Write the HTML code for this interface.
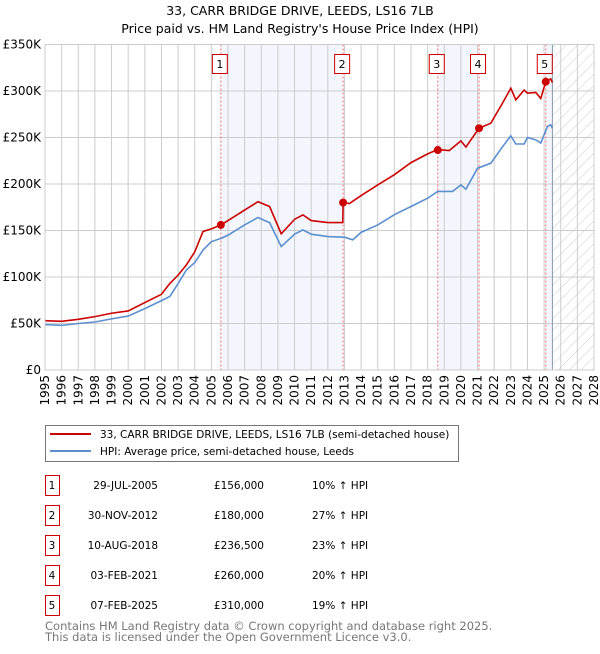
<!DOCTYPE html>
<html><head><meta charset="utf-8"><style>
body{margin:0;background:#fff;font-family:"DejaVu Sans","Liberation Sans",sans-serif;}
svg text{font-family:"DejaVu Sans","Liberation Sans",sans-serif;}
</style></head><body>
<svg id="chart" width="600" height="650" xmlns="http://www.w3.org/2000/svg">
<defs><pattern id="hatch" patternUnits="userSpaceOnUse" width="8" height="8" patternTransform="rotate(45)"><line x1="0" y1="0" x2="0" y2="8" stroke="#ccc" stroke-width="1"/></pattern></defs>
<text x="300" y="15" text-anchor="middle" font-size="12.5">33, CARR BRIDGE DRIVE, LEEDS, LS16 7LB</text>
<text x="300" y="33" text-anchor="middle" font-size="12.5">Price paid vs. HM Land Registry's House Price Index (HPI)</text>
<g id="plot"></g>
<g>
<rect x="45.5" y="425.5" width="413" height="36" fill="#fff" stroke="#777"/>
<line x1="50" y1="434" x2="91" y2="434" stroke="#cc0000" stroke-width="2"/>
<text x="100" y="438" font-size="10.5">33, CARR BRIDGE DRIVE, LEEDS, LS16 7LB (semi-detached house)</text>
<line x1="50" y1="451" x2="91" y2="451" stroke="#5b8fd0" stroke-width="2"/>
<text x="100" y="455" font-size="10.5">HPI: Average price, semi-detached house, Leeds</text>
</g>
<g id="table"></g>
<text x="45" y="630" font-size="11.5" fill="#777">Contains HM Land Registry data © Crown copyright and database right 2025.</text>
<text x="45" y="641" font-size="11.5" fill="#777">This data is licensed under the Open Government Licence v3.0.</text>
</svg>
<script>
const hpiYears=[1995,1996,1997,1998,1999,2000,2001,2002,2002.5,2003,2003.5,2004,2004.5,2005,2005.6,2006,2007,2007.8,2008.5,2009.2,2010,2010.5,2011,2012,2013,2013.5,2014,2015,2016,2017,2018,2018.6,2019.5,2020,2020.3,2021,2021.8,2022.5,2023,2023.3,2023.8,2024,2024.5,2024.8,2025.2,2025.4,2025.5];
const hpiValues=[48.8,48,50,51.6,55,58,66,74.6,79,93,107.6,115.5,129,138,141.7,145,156,164,158.5,132.7,146,150.6,146,143.5,142.8,140,148,156,167,175.8,184.7,192,192,199,194.4,217,222.4,240,251.8,243,243,250,247.5,244,261.8,263.6,260];
const priceYears=[1995,1996,1997,1998,1999,2000,2001,2002,2002.5,2003,2003.5,2004,2004.5,2005,2005.58,2006,2007,2007.8,2008.5,2009.2,2010,2010.5,2011,2012,2012.9,2012.92,2013.3,2014,2015,2016,2017,2018,2018.6,2019.3,2020,2020.3,2021.09,2021.8,2022.5,2023,2023.3,2023.8,2024,2024.5,2024.8,2025.1,2025.4,2025.5];
const priceValues=[53,52.4,54.5,57.4,61,63.5,72.5,81.4,93,102,113,127,149,151.7,156,160.7,172,181,175.8,146.4,162,166.8,160.7,158.5,158.5,180,179,187.6,199,210,223,232.4,237,236,246.4,239.7,260,265.4,287,303,290.5,301,297.7,298.4,292,310,313,309];
const saleLabels=["1","2","3","4","5"];
const saleYears=[2005.57,2012.92,2018.61,2021.09,2025.10];
const saleValues=[156,180,236.5,260,310];
const saleDates=["29-JUL-2005","30-NOV-2012","10-AUG-2018","03-FEB-2021","07-FEB-2025"];
const salePrices=["£156,000","£180,000","£236,500","£260,000","£310,000"];
const saleHpi=["10% ↑ HPI","27% ↑ HPI","23% ↑ HPI","20% ↑ HPI","19% ↑ HPI"];
const yTicks=[0,50,100,150,200,250,300,350];
const yTickLabels=["£0","£50K","£100K","£150K","£200K","£250K","£300K","£350K"];
const xStart=1995,xEnd=2028,forecastStart=2025.5;

const L=45,R=594,T=44.5,B=370;
const X=y=>L+(y-xStart)/(xEnd-xStart)*(R-L);
const Y=v=>B-v/350*(B-T);
const NS="http://www.w3.org/2000/svg";
const g=document.getElementById('plot');
function mk(tag,at,parent){const e=document.createElementNS(NS,tag);for(const k in at)e.setAttribute(k,at[k]);(parent||g).appendChild(e);return e;}

[[0,1],[2,3]].forEach(p=>{
 const r=mk('rect',{x:X(saleYears[p[0]]),y:T,width:X(saleYears[p[1]])-X(saleYears[p[0]]),height:B-T,fill:'#f3f6fd'});
 
 
});
const s5=mk('rect',{x:X(saleYears[4]),y:T,width:X(forecastStart)-X(saleYears[4]),height:B-T,fill:'#f3f6fd'});


const hz=mk('rect',{x:X(forecastStart),y:T,width:R-X(forecastStart),height:B-T,fill:'url(#hatch)'});



for(let yr=xStart;yr<=xEnd;yr++){
 const l=mk('line',{x1:X(yr),x2:X(yr),y1:T,y2:B,stroke:'#ccc','stroke-width':1});
 
 
 const t=mk('text',{x:0,y:0,'font-size':12,'text-anchor':'end',transform:`translate(${X(yr)+4},${B+5}) rotate(-90)`});
 t.textContent=yr;
 
 
}
yTicks.forEach((v,i)=>{
 const l=mk('line',{x1:L,x2:R,y1:Y(v),y2:Y(v),stroke:'#ccc','stroke-width':1});
 
 
 const t=mk('text',{x:L-4,y:Y(v)+4,'font-size':12,'text-anchor':'end'});
 t.textContent=yTickLabels[i];
 
 
});
const fl=mk('line',{x1:X(forecastStart),x2:X(forecastStart),y1:T,y2:B,stroke:'#8899aa','stroke-width':1});



saleYears.forEach((yr,i)=>{
 const l=mk('line',{x1:X(yr),x2:X(yr),y1:T,y2:B,stroke:'#f07070','stroke-width':1,'stroke-dasharray':'2,2'});
 
 
 const r=mk('rect',{x:X(yr)-8.5,y:54.5,width:15,height:19,fill:'#fff',stroke:'#cc0000'});
 
 
 const t=mk('text',{x:X(yr)-1,y:68,'font-size':11,'text-anchor':'middle'});
 t.textContent=saleLabels[i];
 
 
});

const hp=mk('polyline',{points:hpiYears.map((y,i)=>X(y)+','+Y(hpiValues[i])).join(' '),fill:'none',stroke:'#5b8fd0','stroke-width':1.6});


const pp=mk('polyline',{points:priceYears.map((y,i)=>X(y)+','+Y(priceValues[i])).join(' '),fill:'none',stroke:'#cc0000','stroke-width':1.6});


saleYears.forEach((yr,i)=>{
 const c=mk('circle',{cx:X(yr),cy:Y(saleValues[i]),r:4,fill:'#cc0000'});
 
 
});
const fr=mk('rect',{x:L,y:T,width:R-L,height:B-T,fill:'none',stroke:'#ccc'});



const tb=document.getElementById('table');
saleLabels.forEach((s,i)=>{
 const y=475+i*30;
 const r=mk('rect',{x:45.5,y:y+0.5,width:14,height:20,fill:'#fff',stroke:'#cc0000'},tb);
 
 
 const cells=[[s,52,'middle'],[saleDates[i],158,'end'],[salePrices[i],264,'end'],[saleHpi[i],312,'start']];
 cells.forEach(c=>{
  const t=mk('text',{x:c[1],y:y+14,'font-size':10.5,'text-anchor':c[2]},tb);
  t.textContent=c[0];
  
  
 });
});
</script>
</body></html>
